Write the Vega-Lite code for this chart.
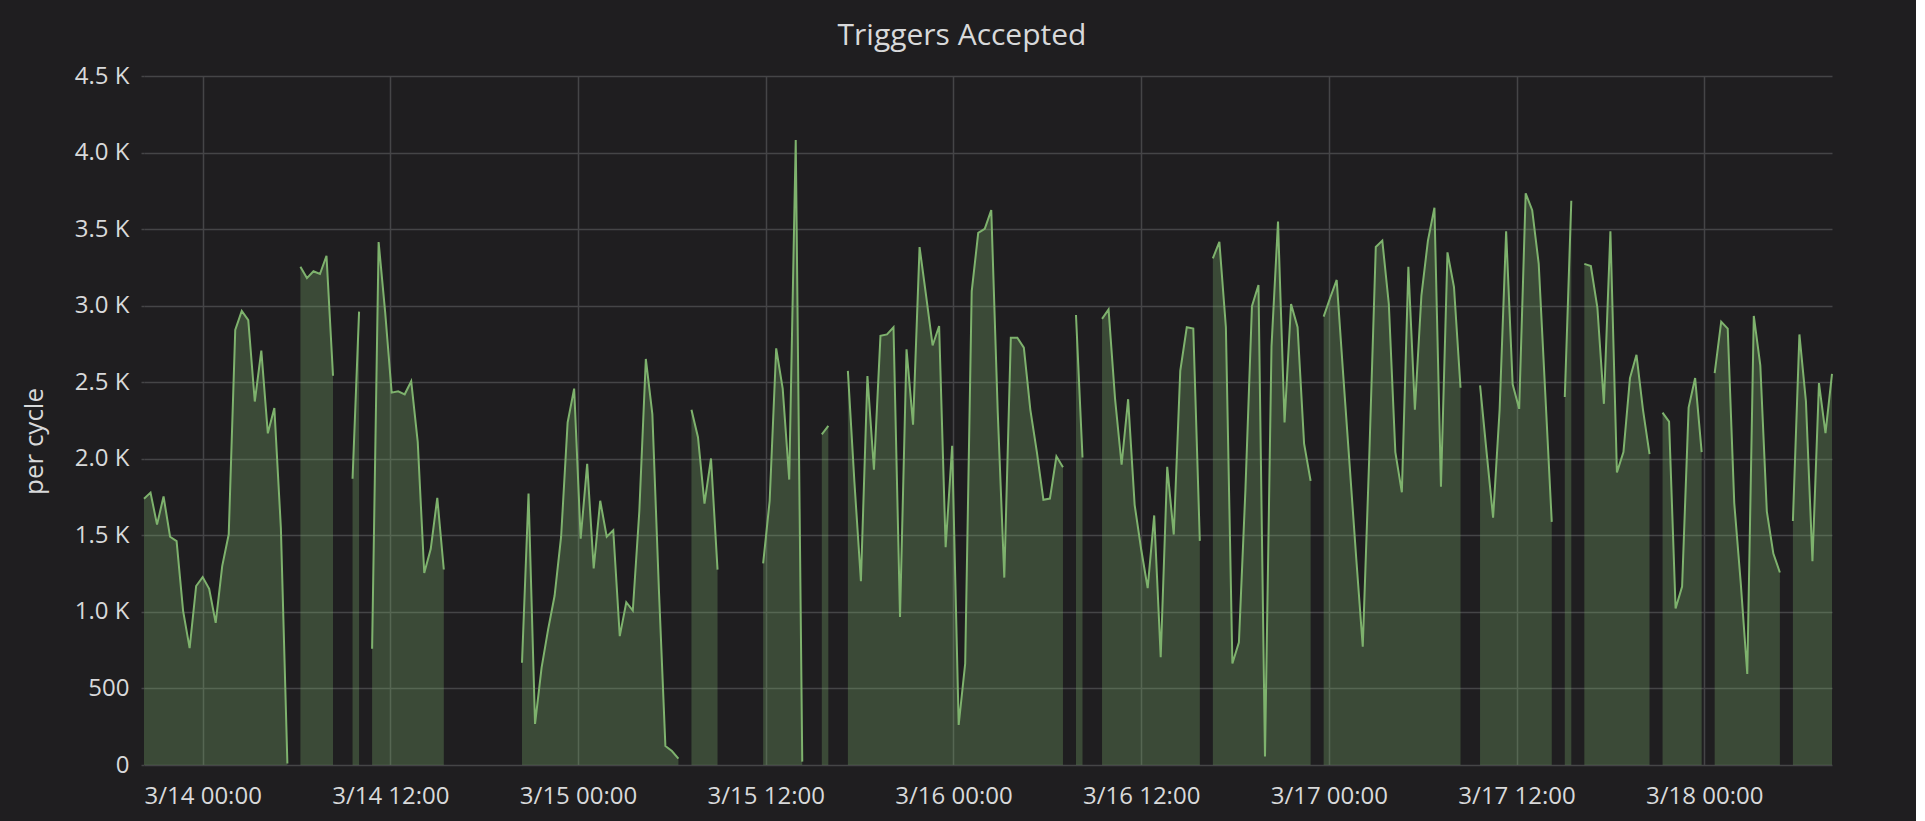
{
  "$schema": "https://vega.github.io/schema/vega-lite/v6.json",
  "autosize": {"type": "none"},
  "width": 1688,
  "height": 689,
  "padding": {"left": 144, "top": 76, "right": 84, "bottom": 56},
  "background": "#1f1e20",
  "title": {
    "text": "Triggers Accepted",
    "anchor": "middle",
    "frame": "group",
    "dx": -26,
    "dy": 31,
    "baseline": "alphabetic",
    "offset": 20,
    "font": "Open Sans",
    "fontSize": 30,
    "fontWeight": 500,
    "color": "#d8d9da"
  },
  "config": {
    "view": {"stroke": null},
    "font": "Open Sans"
  },
  "data": {
    "values": [
      {"t": "2017-03-13T20:15Z", "v": 1739},
      {"t": "2017-03-13T20:40Z", "v": 1779},
      {"t": "2017-03-13T21:05Z", "v": 1570},
      {"t": "2017-03-13T21:30Z", "v": 1754},
      {"t": "2017-03-13T21:55Z", "v": 1491},
      {"t": "2017-03-13T22:20Z", "v": 1462},
      {"t": "2017-03-13T22:45Z", "v": 1007},
      {"t": "2017-03-13T23:10Z", "v": 763},
      {"t": "2017-03-13T23:35Z", "v": 1169},
      {"t": "2017-03-14T00:00Z", "v": 1227},
      {"t": "2017-03-14T00:25Z", "v": 1151},
      {"t": "2017-03-14T00:50Z", "v": 928},
      {"t": "2017-03-14T01:15Z", "v": 1299},
      {"t": "2017-03-14T01:40Z", "v": 1507},
      {"t": "2017-03-14T02:05Z", "v": 2842},
      {"t": "2017-03-14T02:30Z", "v": 2966},
      {"t": "2017-03-14T02:55Z", "v": 2905},
      {"t": "2017-03-14T03:20Z", "v": 2374},
      {"t": "2017-03-14T03:45Z", "v": 2707},
      {"t": "2017-03-14T04:10Z", "v": 2166},
      {"t": "2017-03-14T04:35Z", "v": 2331},
      {"t": "2017-03-14T05:00Z", "v": 1550},
      {"t": "2017-03-14T05:25Z", "v": 10},
      {"t": "2017-03-14T05:50Z", "v": null},
      {"t": "2017-03-14T06:15Z", "v": 3254},
      {"t": "2017-03-14T06:40Z", "v": 3180},
      {"t": "2017-03-14T07:05Z", "v": 3225},
      {"t": "2017-03-14T07:30Z", "v": 3207},
      {"t": "2017-03-14T07:55Z", "v": 3326},
      {"t": "2017-03-14T08:20Z", "v": 2542},
      {"t": "2017-03-14T08:45Z", "v": null},
      {"t": "2017-03-14T09:35Z", "v": 1869},
      {"t": "2017-03-14T10:00Z", "v": 2961},
      {"t": "2017-03-14T10:25Z", "v": null},
      {"t": "2017-03-14T10:50Z", "v": 759},
      {"t": "2017-03-14T11:15Z", "v": 3416},
      {"t": "2017-03-14T11:40Z", "v": 2960},
      {"t": "2017-03-14T12:05Z", "v": 2432},
      {"t": "2017-03-14T12:30Z", "v": 2441},
      {"t": "2017-03-14T12:55Z", "v": 2421},
      {"t": "2017-03-14T13:20Z", "v": 2506},
      {"t": "2017-03-14T13:45Z", "v": 2110},
      {"t": "2017-03-14T14:10Z", "v": 1254},
      {"t": "2017-03-14T14:35Z", "v": 1412},
      {"t": "2017-03-14T15:00Z", "v": 1745},
      {"t": "2017-03-14T15:25Z", "v": 1277},
      {"t": "2017-03-14T15:50Z", "v": null},
      {"t": "2017-03-14T20:25Z", "v": 668},
      {"t": "2017-03-14T20:50Z", "v": 1773},
      {"t": "2017-03-14T21:15Z", "v": 268},
      {"t": "2017-03-14T21:40Z", "v": 635},
      {"t": "2017-03-14T22:05Z", "v": 884},
      {"t": "2017-03-14T22:30Z", "v": 1105},
      {"t": "2017-03-14T22:55Z", "v": 1491},
      {"t": "2017-03-14T23:20Z", "v": 2237},
      {"t": "2017-03-14T23:45Z", "v": 2458},
      {"t": "2017-03-15T00:10Z", "v": 1478},
      {"t": "2017-03-15T00:35Z", "v": 1967},
      {"t": "2017-03-15T01:00Z", "v": 1284},
      {"t": "2017-03-15T01:25Z", "v": 1726},
      {"t": "2017-03-15T01:50Z", "v": 1491},
      {"t": "2017-03-15T02:15Z", "v": 1533},
      {"t": "2017-03-15T02:40Z", "v": 842},
      {"t": "2017-03-15T03:05Z", "v": 1063},
      {"t": "2017-03-15T03:30Z", "v": 1008},
      {"t": "2017-03-15T03:55Z", "v": 1657},
      {"t": "2017-03-15T04:20Z", "v": 2652},
      {"t": "2017-03-15T04:45Z", "v": 2292},
      {"t": "2017-03-15T05:10Z", "v": 1150},
      {"t": "2017-03-15T05:35Z", "v": 124},
      {"t": "2017-03-15T06:00Z", "v": 91},
      {"t": "2017-03-15T06:25Z", "v": 41},
      {"t": "2017-03-15T06:50Z", "v": null},
      {"t": "2017-03-15T07:15Z", "v": 2320},
      {"t": "2017-03-15T07:40Z", "v": 2141},
      {"t": "2017-03-15T08:05Z", "v": 1707},
      {"t": "2017-03-15T08:30Z", "v": 2002},
      {"t": "2017-03-15T08:55Z", "v": 1276},
      {"t": "2017-03-15T09:20Z", "v": null},
      {"t": "2017-03-15T11:50Z", "v": 1317},
      {"t": "2017-03-15T12:15Z", "v": 1726},
      {"t": "2017-03-15T12:40Z", "v": 2721},
      {"t": "2017-03-15T13:05Z", "v": 2458},
      {"t": "2017-03-15T13:30Z", "v": 1864},
      {"t": "2017-03-15T13:55Z", "v": 4082},
      {"t": "2017-03-15T14:20Z", "v": 22},
      {"t": "2017-03-15T14:45Z", "v": null},
      {"t": "2017-03-15T15:35Z", "v": 2160},
      {"t": "2017-03-15T16:00Z", "v": 2215},
      {"t": "2017-03-15T16:25Z", "v": null},
      {"t": "2017-03-15T17:15Z", "v": 2574},
      {"t": "2017-03-15T17:40Z", "v": 1850},
      {"t": "2017-03-15T18:05Z", "v": 1201},
      {"t": "2017-03-15T18:30Z", "v": 2541},
      {"t": "2017-03-15T18:55Z", "v": 1928},
      {"t": "2017-03-15T19:20Z", "v": 2803},
      {"t": "2017-03-15T19:45Z", "v": 2812},
      {"t": "2017-03-15T20:10Z", "v": 2859},
      {"t": "2017-03-15T20:35Z", "v": 967},
      {"t": "2017-03-15T21:00Z", "v": 2715},
      {"t": "2017-03-15T21:25Z", "v": 2223},
      {"t": "2017-03-15T21:50Z", "v": 3383},
      {"t": "2017-03-15T22:15Z", "v": 3066},
      {"t": "2017-03-15T22:40Z", "v": 2740},
      {"t": "2017-03-15T23:05Z", "v": 2867},
      {"t": "2017-03-15T23:30Z", "v": 1422},
      {"t": "2017-03-15T23:55Z", "v": 2085},
      {"t": "2017-03-16T00:20Z", "v": 262},
      {"t": "2017-03-16T00:45Z", "v": 663},
      {"t": "2017-03-16T01:10Z", "v": 3093},
      {"t": "2017-03-16T01:35Z", "v": 3475},
      {"t": "2017-03-16T02:00Z", "v": 3502},
      {"t": "2017-03-16T02:25Z", "v": 3624},
      {"t": "2017-03-16T02:50Z", "v": 2300},
      {"t": "2017-03-16T03:15Z", "v": 1224},
      {"t": "2017-03-16T03:40Z", "v": 2790},
      {"t": "2017-03-16T04:05Z", "v": 2790},
      {"t": "2017-03-16T04:30Z", "v": 2726},
      {"t": "2017-03-16T04:55Z", "v": 2320},
      {"t": "2017-03-16T05:20Z", "v": 2044},
      {"t": "2017-03-16T05:45Z", "v": 1732},
      {"t": "2017-03-16T06:10Z", "v": 1740},
      {"t": "2017-03-16T06:35Z", "v": 2016},
      {"t": "2017-03-16T07:00Z", "v": 1944},
      {"t": "2017-03-16T07:25Z", "v": null},
      {"t": "2017-03-16T07:50Z", "v": 2939},
      {"t": "2017-03-16T08:15Z", "v": 2008},
      {"t": "2017-03-16T08:40Z", "v": null},
      {"t": "2017-03-16T09:30Z", "v": 2914},
      {"t": "2017-03-16T09:55Z", "v": 2975},
      {"t": "2017-03-16T10:20Z", "v": 2389},
      {"t": "2017-03-16T10:45Z", "v": 1961},
      {"t": "2017-03-16T11:10Z", "v": 2389},
      {"t": "2017-03-16T11:35Z", "v": 1699},
      {"t": "2017-03-16T12:00Z", "v": 1409},
      {"t": "2017-03-16T12:25Z", "v": 1155},
      {"t": "2017-03-16T12:50Z", "v": 1630},
      {"t": "2017-03-16T13:15Z", "v": 704},
      {"t": "2017-03-16T13:40Z", "v": 1947},
      {"t": "2017-03-16T14:05Z", "v": 1505},
      {"t": "2017-03-16T14:30Z", "v": 2574},
      {"t": "2017-03-16T14:55Z", "v": 2859},
      {"t": "2017-03-16T15:20Z", "v": 2851},
      {"t": "2017-03-16T15:45Z", "v": 1464},
      {"t": "2017-03-16T16:10Z", "v": null},
      {"t": "2017-03-16T16:35Z", "v": 3309},
      {"t": "2017-03-16T17:00Z", "v": 3417},
      {"t": "2017-03-16T17:25Z", "v": 2859},
      {"t": "2017-03-16T17:50Z", "v": 663},
      {"t": "2017-03-16T18:15Z", "v": 801},
      {"t": "2017-03-16T18:40Z", "v": 1800},
      {"t": "2017-03-16T19:05Z", "v": 2997},
      {"t": "2017-03-16T19:30Z", "v": 3135},
      {"t": "2017-03-16T19:55Z", "v": 55},
      {"t": "2017-03-16T20:20Z", "v": 2734},
      {"t": "2017-03-16T20:45Z", "v": 3549},
      {"t": "2017-03-16T21:10Z", "v": 2237},
      {"t": "2017-03-16T21:35Z", "v": 3011},
      {"t": "2017-03-16T22:00Z", "v": 2859},
      {"t": "2017-03-16T22:25Z", "v": 2099},
      {"t": "2017-03-16T22:50Z", "v": 1856},
      {"t": "2017-03-16T23:15Z", "v": null},
      {"t": "2017-03-16T23:40Z", "v": 2928},
      {"t": "2017-03-17T00:05Z", "v": 3052},
      {"t": "2017-03-17T00:30Z", "v": 3168},
      {"t": "2017-03-17T00:55Z", "v": 2550},
      {"t": "2017-03-17T01:20Z", "v": 1950},
      {"t": "2017-03-17T01:45Z", "v": 1350},
      {"t": "2017-03-17T02:10Z", "v": 773},
      {"t": "2017-03-17T02:35Z", "v": 2016},
      {"t": "2017-03-17T03:00Z", "v": 3383},
      {"t": "2017-03-17T03:25Z", "v": 3425},
      {"t": "2017-03-17T03:50Z", "v": 3011},
      {"t": "2017-03-17T04:15Z", "v": 2044},
      {"t": "2017-03-17T04:40Z", "v": 1781},
      {"t": "2017-03-17T05:05Z", "v": 3254},
      {"t": "2017-03-17T05:30Z", "v": 2320},
      {"t": "2017-03-17T05:55Z", "v": 3066},
      {"t": "2017-03-17T06:20Z", "v": 3425},
      {"t": "2017-03-17T06:45Z", "v": 3640},
      {"t": "2017-03-17T07:10Z", "v": 1817},
      {"t": "2017-03-17T07:35Z", "v": 3348},
      {"t": "2017-03-17T08:00Z", "v": 3121},
      {"t": "2017-03-17T08:25Z", "v": 2464},
      {"t": "2017-03-17T08:50Z", "v": null},
      {"t": "2017-03-17T09:40Z", "v": 2480},
      {"t": "2017-03-17T10:05Z", "v": 2044},
      {"t": "2017-03-17T10:30Z", "v": 1616},
      {"t": "2017-03-17T10:55Z", "v": 2320},
      {"t": "2017-03-17T11:20Z", "v": 3486},
      {"t": "2017-03-17T11:45Z", "v": 2486},
      {"t": "2017-03-17T12:10Z", "v": 2326},
      {"t": "2017-03-17T12:35Z", "v": 3734},
      {"t": "2017-03-17T13:00Z", "v": 3624},
      {"t": "2017-03-17T13:25Z", "v": 3273},
      {"t": "2017-03-17T13:50Z", "v": 2431},
      {"t": "2017-03-17T14:15Z", "v": 1588},
      {"t": "2017-03-17T14:40Z", "v": null},
      {"t": "2017-03-17T15:05Z", "v": 2403},
      {"t": "2017-03-17T15:30Z", "v": 3685},
      {"t": "2017-03-17T15:55Z", "v": null},
      {"t": "2017-03-17T16:20Z", "v": 3273},
      {"t": "2017-03-17T16:45Z", "v": 3259},
      {"t": "2017-03-17T17:10Z", "v": 2988},
      {"t": "2017-03-17T17:35Z", "v": 2359},
      {"t": "2017-03-17T18:00Z", "v": 3486},
      {"t": "2017-03-17T18:25Z", "v": 1911},
      {"t": "2017-03-17T18:50Z", "v": 2044},
      {"t": "2017-03-17T19:15Z", "v": 2527},
      {"t": "2017-03-17T19:40Z", "v": 2679},
      {"t": "2017-03-17T20:05Z", "v": 2320},
      {"t": "2017-03-17T20:30Z", "v": 2030},
      {"t": "2017-03-17T20:55Z", "v": null},
      {"t": "2017-03-17T21:20Z", "v": 2301},
      {"t": "2017-03-17T21:45Z", "v": 2243},
      {"t": "2017-03-17T22:10Z", "v": 1022},
      {"t": "2017-03-17T22:35Z", "v": 1166},
      {"t": "2017-03-17T23:00Z", "v": 2334},
      {"t": "2017-03-17T23:25Z", "v": 2527},
      {"t": "2017-03-17T23:50Z", "v": 2044},
      {"t": "2017-03-18T00:15Z", "v": null},
      {"t": "2017-03-18T00:40Z", "v": 2560},
      {"t": "2017-03-18T01:05Z", "v": 2895},
      {"t": "2017-03-18T01:30Z", "v": 2850},
      {"t": "2017-03-18T01:55Z", "v": 1712},
      {"t": "2017-03-18T02:20Z", "v": 1188},
      {"t": "2017-03-18T02:45Z", "v": 594},
      {"t": "2017-03-18T03:10Z", "v": 2933},
      {"t": "2017-03-18T03:35Z", "v": 2610},
      {"t": "2017-03-18T04:00Z", "v": 1657},
      {"t": "2017-03-18T04:25Z", "v": 1381},
      {"t": "2017-03-18T04:50Z", "v": 1257},
      {"t": "2017-03-18T05:15Z", "v": null},
      {"t": "2017-03-18T05:40Z", "v": 1594},
      {"t": "2017-03-18T06:05Z", "v": 2812},
      {"t": "2017-03-18T06:30Z", "v": 2375},
      {"t": "2017-03-18T06:55Z", "v": 1331},
      {"t": "2017-03-18T07:20Z", "v": 2494},
      {"t": "2017-03-18T07:45Z", "v": 2168},
      {"t": "2017-03-18T08:10Z", "v": 2555}
    ]
  },
  "encoding": {
    "x": {
      "field": "t",
      "type": "temporal",
      "scale": {
        "type": "utc",
        "domain": [
          {"year": 2017, "month": 3, "date": 13, "hours": 20, "minutes": 15, "utc": true},
          {"year": 2017, "month": 3, "date": 18, "hours": 8, "minutes": 10, "utc": true}
        ]
      },
      "axis": {
        "title": null,
        "values": [
          {"year": 2017, "month": 3, "date": 14, "hours": 0, "utc": true},
          {"year": 2017, "month": 3, "date": 14, "hours": 12, "utc": true},
          {"year": 2017, "month": 3, "date": 15, "hours": 0, "utc": true},
          {"year": 2017, "month": 3, "date": 15, "hours": 12, "utc": true},
          {"year": 2017, "month": 3, "date": 16, "hours": 0, "utc": true},
          {"year": 2017, "month": 3, "date": 16, "hours": 12, "utc": true},
          {"year": 2017, "month": 3, "date": 17, "hours": 0, "utc": true},
          {"year": 2017, "month": 3, "date": 17, "hours": 12, "utc": true},
          {"year": 2017, "month": 3, "date": 18, "hours": 0, "utc": true}
        ],
        "format": "%-m/%d %H:%M",
        "domain": false,
        "ticks": false,
        "grid": true,
        "gridColor": "#454547",
        "gridWidth": 1.5,
        "labelFont": "Open Sans",
        "labelFontSize": 24,
        "labelColor": "#d8d9da",
        "labelPadding": 19,
        "labelFlush": false,
        "labelOverlap": false
      }
    },
    "y": {
      "field": "v",
      "type": "quantitative",
      "scale": {"domain": [0, 4500], "nice": false, "zero": true},
      "axis": {
        "title": "per cycle",
        "values": [0, 500, 1000, 1500, 2000, 2500, 3000, 3500, 4000, 4500],
        "labelExpr": "datum.value >= 1000 ? format(datum.value / 1000, '.1f') + ' K' : format(datum.value, 'd')",
        "domain": false,
        "ticks": true,
        "tickSize": 3,
        "tickColor": "#454547",
        "tickWidth": 1.5,
        "grid": true,
        "gridColor": "#454547",
        "gridWidth": 1.5,
        "labelFont": "Open Sans",
        "labelFontSize": 24,
        "labelColor": "#d8d9da",
        "labelPadding": 12,
        "labelFlush": false,
        "labelOverlap": false,
        "titleFont": "Open Sans",
        "titleFontSize": 26,
        "titleFontWeight": "normal",
        "titleColor": "#d8d9da",
        "titleAngle": 270,
        "titleAlign": "center",
        "titleBaseline": "middle",
        "titleX": -110,
        "titleY": 365
      }
    }
  },
  "layer": [
    {
      "mark": {
        "type": "area",
        "color": "#7eb26d",
        "fillOpacity": 0.3,
        "invalid": "break-paths-show-domains",
        "interpolate": "linear"
      }
    },
    {
      "mark": {
        "type": "line",
        "color": "#7eb26d",
        "strokeWidth": 2,
        "invalid": "break-paths-show-domains",
        "interpolate": "linear"
      }
    }
  ]
}
